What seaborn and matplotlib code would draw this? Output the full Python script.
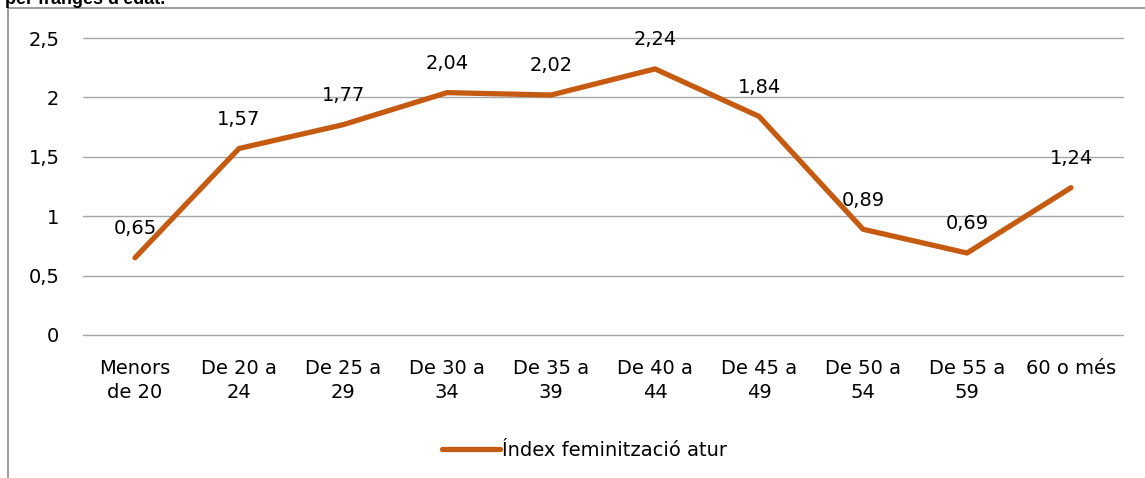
import pandas as pd
import matplotlib.pyplot as plt
import matplotlib.ticker as mticker
from matplotlib.lines import Line2D
import seaborn as sns

# --- DADES ---
franges = ['Menors\nde 20', 'De 20 a\n24', 'De 25 a\n29', 'De 30 a\n34', 'De 35 a\n39',
           'De 40 a\n44', 'De 45 a\n49', 'De 50 a\n54', 'De 55 a\n59', '60 o més']
index_fem = [0.65, 1.57, 1.77, 2.04, 2.02, 2.24, 1.84, 0.89, 0.69, 1.24]
serie = 'Índex feminització atur'

df = pd.DataFrame({'franja': franges, 'valor': index_fem})
df['pos'] = range(len(df))

sns.set_theme(style="white")
plt.rcParams['font.family'] = ['DejaVu Sans']
plt.rcParams['text.color'] = 'black'
plt.rcParams['xtick.color'] = 'black'
plt.rcParams['ytick.color'] = 'black'

fig = plt.figure(figsize=(11.45, 4.78), dpi=100)
ax = fig.add_axes([0.0725, 0.2992, 0.9083, 0.6213])

color = '#C55A11'
sns.lineplot(data=df, x='pos', y='valor', ax=ax, color=color, linewidth=3.8,
             label=serie, solid_capstyle='round')

ax.set_xlim(-0.5, len(df) - 0.5)
ax.set_ylim(0, 2.5)
ax.set_yticks([0, 0.5, 1, 1.5, 2, 2.5])
ax.yaxis.set_major_formatter(mticker.FuncFormatter(lambda v, p: f'{v:g}'.replace('.', ',')))
ax.set_xticks(df['pos'])
ax.set_xticklabels(df['franja'], fontsize=14, linespacing=1.35)
ax.tick_params(axis='y', labelsize=14, pad=17, length=0)
ax.tick_params(axis='x', length=0, pad=17)
ax.set_xlabel('')
ax.set_ylabel('')
ax.grid(axis='y', color='#A6A6A6', linewidth=1)
for gl in ax.get_ygridlines():
    gl.set_clip_on(False)
for s in ax.spines.values():
    s.set_visible(False)

# etiquetes de dades
for x, y in zip(df['pos'], df['valor']):
    ax.annotate(f'{y:.2f}'.replace('.', ','), (x, y), xytext=(0, 17),
                textcoords='offset points', ha='center', va='baseline', fontsize=14)

leg = ax.legend(loc='center', bbox_to_anchor=(0.482, -0.39), frameon=False,
                fontsize=14, handlelength=3.0, handletextpad=0.1)

# marc i títol tallat
fig.add_artist(Line2D([8 / 1145, 8 / 1145], [0, 1 - 8 / 478], color='#8C8C8C', lw=1.2))
fig.add_artist(Line2D([8 / 1145, 1], [1 - 8 / 478, 1 - 8 / 478], color='#8C8C8C', lw=1.2))
fig.text(5 / 1145, 1 - 4 / 478, "per franges d'edat.", fontsize=13, fontweight='bold',
         family='Liberation Sans', va='baseline', ha='left')

plt.savefig('out.png', dpi=100)
